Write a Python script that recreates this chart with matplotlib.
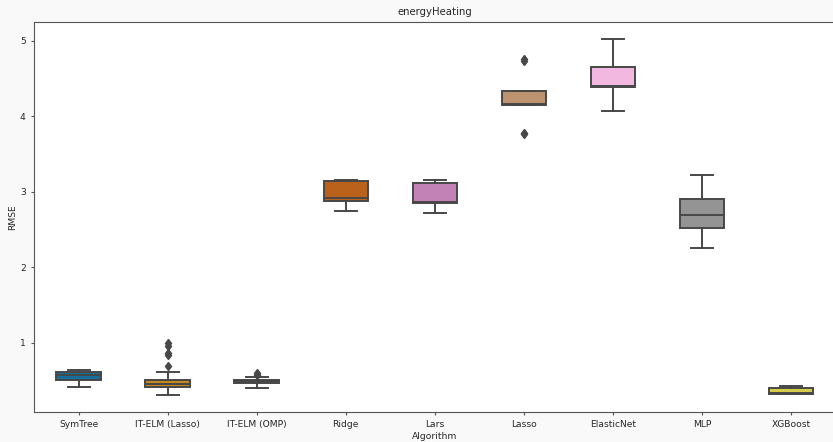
import matplotlib
matplotlib.use("Agg")
import matplotlib.pyplot as plt
import seaborn as sns

# box statistics (RMSE)
algorithms = ["SymTree", "IT-ELM (Lasso)", "IT-ELM (OMP)", "Ridge", "Lars",
              "Lasso", "ElasticNet", "MLP", "XGBoost"]
q1 = [0.51, 0.41, 0.466, 2.885, 2.858, 4.148, 4.387, 2.519, 0.32]
median = [0.57, 0.45, 0.49, 2.917, 2.865, 4.165, 4.40, 2.691, 0.335]
q3 = [0.62, 0.51, 0.514, 3.14, 3.115, 4.342, 4.652, 2.903, 0.404]
whislo = [0.42, 0.315, 0.404, 2.752, 2.726, 4.148, 4.069, 2.254, 0.32]
whishi = [0.64, 0.61, 0.554, 3.157, 3.159, 4.342, 5.022, 3.225, 0.435]
fliers = [[], [0.995, 0.96, 0.87, 0.84, 0.69], [0.60, 0.575], [], [],
          [4.739, 4.76, 3.786, 3.77], [], [], []]

palette = sns.color_palette("colorblind", len(algorithms))
palette = [sns.desaturate(c, 0.75) for c in palette]
line_col = "#474747"

stats = []
for i, name in enumerate(algorithms):
    stats.append(dict(label=name, q1=q1[i], med=median[i], q3=q3[i],
                      whislo=whislo[i], whishi=whishi[i], fliers=fliers[i]))

fig = plt.figure(figsize=(8.33, 4.42), dpi=100, facecolor="#f9f9f9")
ax = fig.add_axes([0.041, 0.068, 0.962, 0.882])
ax.set_facecolor("white")

lw = 1.4
bp = ax.bxp(stats, positions=range(len(algorithms)), widths=0.5,
            patch_artist=True, showfliers=True,
            boxprops=dict(edgecolor=line_col, linewidth=lw),
            medianprops=dict(color=line_col, linewidth=lw),
            whiskerprops=dict(color=line_col, linewidth=lw),
            capprops=dict(color=line_col, linewidth=lw),
            flierprops=dict(marker="d", markerfacecolor=line_col,
                            markeredgecolor=line_col, markersize=4.5))
for patch, c in zip(bp["boxes"], palette):
    patch.set_facecolor(c)

ax.set_xlim(-0.5, len(algorithms) - 0.5)
ax.set_ylim(0.086, 5.25)
ax.set_yticks([1, 2, 3, 4, 5])
ax.set_xticks(range(len(algorithms)))
ax.set_xticklabels(algorithms)
ax.tick_params(labelsize=6.6, length=2.5, color="#555555", labelcolor="#262626")
ax.set_xlabel("Algorithm", fontsize=6.6, labelpad=2, color="#262626")
ax.set_ylabel("RMSE", fontsize=6.6, labelpad=2, color="#262626")
ax.set_title("energyHeating", fontsize=7.3, pad=5, color="#262626")
for s in ax.spines.values():
    s.set_color("#555555")
    s.set_linewidth(0.8)

fig.savefig("out.png", dpi=100, facecolor=fig.get_facecolor())
